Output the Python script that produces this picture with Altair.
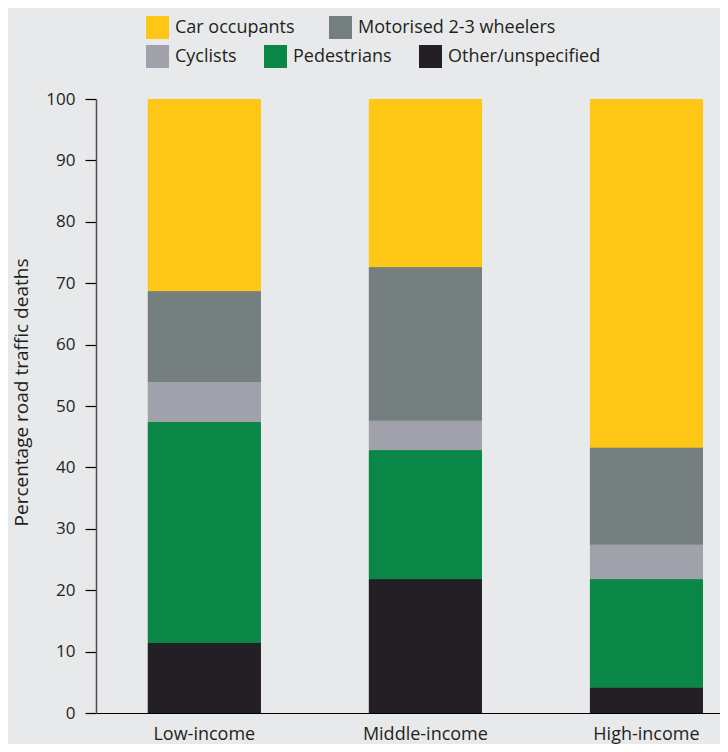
import altair as alt
import pandas as pd

categories = ["Low-income", "Middle-income", "High-income"]
modes = ["Car occupants", "Motorised 2-3 wheelers", "Cyclists", "Pedestrians", "Other/unspecified"]
mode_colors = ["#fec715", "#767f7f", "#a0a1aa", "#0a8747", "#231f25"]

car_occupants = [31.3, 27.4, 56.8]
motorised = [14.8, 25.0, 15.8]
cyclists = [6.5, 4.8, 5.6]
pedestrians = [36.0, 21.0, 17.7]
other = [11.4, 21.8, 4.1]

series = [car_occupants, motorised, cyclists, pedestrians, other]
stack_rank = [4, 3, 2, 1, 0]

rows = []
for m, vals, r in zip(modes, series, stack_rank):
    for c, v in zip(categories, vals):
        rows.append({"income": c, "mode": m, "value": v, "rank": r})
df = pd.DataFrame(rows)

FONT = "Open Sans"
TEXT = "#231f20"

x = alt.X(
    "income:N",
    sort=categories,
    title=None,
    scale=alt.Scale(paddingInner=0.489, paddingOuter=0.156, align=0.752),
    axis=alt.Axis(labelAngle=0, ticks=False, labelPadding=12, labelFontSize=18,
                  labelColor=TEXT, domainColor="#000000", domainWidth=1.2),
)
y = alt.Y(
    "value:Q",
    stack="zero",
    scale=alt.Scale(domain=[0, 100], nice=False),
    axis=alt.Axis(values=list(range(0, 101, 10)), title="Percentage road traffic deaths",
                  titleFontSize=19, titleFontWeight="normal", titleColor=TEXT,
                  grid=False, tickSize=11, tickColor="#000000", tickWidth=1.2,
                  domainColor="#4d4d4f", domainWidth=1.5, labelPadding=10,
                  labelFontSize=17, labelColor=TEXT,
                  titleX=-75, titleY=293, titleBaseline="middle", titleAngle=270,
                  titleAlign="center"),
)


def bars(vals, cols, gap, lx, ly):
    return alt.Chart(df).mark_bar().encode(
        x=x,
        y=y,
        color=alt.Color(
            "mode:N",
            scale=alt.Scale(domain=modes, range=mode_colors),
            legend=alt.Legend(values=vals, orient="none", legendX=lx, legendY=ly,
                              direction="horizontal", columns=cols, title=None,
                              columnPadding=gap),
        ),
        order=alt.Order("rank:Q"),
    )


chart = (
    alt.layer(bars(modes[:2], 2, 34, 50, -83), bars(modes[2:], 3, 27, 50, -54))
    .resolve_scale(color="independent")
    .properties(
        width=624,
        height=614,
        autosize=alt.AutoSizeParams(type="none"),
        padding={"left": 88, "top": 91, "right": 0, "bottom": 31},
        background="#e8e9eb",
    )
    .configure_view(stroke=None)
    .configure_axis(labelFont=FONT, titleFont=FONT)
    .configure_legend(
        labelFont=FONT, labelFontSize=18, labelColor=TEXT, labelLimit=400,
        symbolType="square", symbolSize=529, symbolStrokeWidth=0, symbolOpacity=1,
        labelOffset=6, rowPadding=0, padding=0,
    )
)

chart.save("out.html", embed_options={"renderer": "svg", "actions": False})
